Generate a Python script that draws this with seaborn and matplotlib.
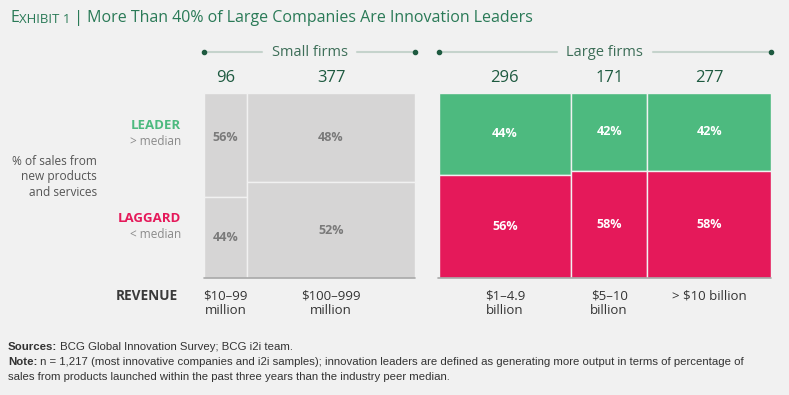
import matplotlib
matplotlib.use('Agg')
import matplotlib.pyplot as plt
import seaborn as sns

# dati
groups = ['Small firms', 'Large firms']
firm_group = ['Small firms', 'Small firms', 'Large firms', 'Large firms', 'Large firms']
revenue_labels = ['$10–99\nmillion', '$100–999\nmillion', '$1–4.9\nbillion', '$5–10\nbillion', '> $10 billion']
sample_sizes = [96, 377, 296, 171, 277]
leader_pct = [56, 48, 44, 42, 42]
laggard_pct = [44, 52, 56, 58, 58]

sns.set_theme(style='white')
plt.rcParams['font.family'] = ['Open Sans', 'DejaVu Sans']

BG = '#f1f1f1'
GRAY = '#d6d5d5'
GREEN = '#4dba7f'
RED = '#e5195a'
TITLE_GREEN = '#2a7a57'
DARK_GREEN = '#1e5a40'
W, H = 789, 395


def px(x, y):
    return x / W, 1 - y / H


fig = plt.figure(figsize=(W / 100, H / 100), dpi=100)
fig.patch.set_facecolor(BG)
ax = fig.add_axes([204 / W, 1 - 278.3 / H, 567 / W, 185.3 / H])
ax.set_facecolor('none')

# posizioni delle colonne (larghezza proporzionale a n)
group_gap = 53
lefts = []
pos = 0
prev = None
for g, n in zip(firm_group, sample_sizes):
    if prev is not None and g != prev:
        pos += group_gap
    lefts.append(pos)
    pos += n
    prev = g
centers = [l + n / 2 for l, n in zip(lefts, sample_sizes)]

top_colors = [GRAY if g == 'Small firms' else GREEN for g in firm_group]
bot_colors = [GRAY if g == 'Small firms' else RED for g in firm_group]
ax.bar(lefts, leader_pct, width=sample_sizes, bottom=0, align='edge',
       color=top_colors, edgecolor=BG, linewidth=1)
ax.bar(lefts, laggard_pct, width=sample_sizes, bottom=leader_pct, align='edge',
       color=bot_colors, edgecolor=BG, linewidth=1)
ax.set_xlim(0, pos)
ax.set_ylim(100, 0)

# etichette percentuali (nel gruppo piccolo i leader sono allineati)
small_top = min(leader_pct[i] for i, g in enumerate(firm_group) if g == 'Small firms')
for i, g in enumerate(firm_group):
    tc = '#7a7a7a' if g == 'Small firms' else 'white'
    y_top = small_top / 2 if g == 'Small firms' else leader_pct[i] / 2
    ax.text(centers[i], y_top, f'{leader_pct[i]}%', ha='center', va='center',
            fontsize=9, fontweight='bold', color=tc)
    ax.text(centers[i], leader_pct[i] + laggard_pct[i] / 2, f'{laggard_pct[i]}%', ha='center',
            va='center', fontsize=9, fontweight='bold', color=tc)
    ax.text(centers[i], 1.08, str(sample_sizes[i]), transform=ax.get_xaxis_transform(),
            ha='center', va='center', fontsize=12, color=DARK_GREEN)

# intestazioni dei gruppi e linea di base
trans = ax.get_xaxis_transform()
for g in groups:
    idx = [i for i, fg in enumerate(firm_group) if fg == g]
    start = lefts[idx[0]]
    end = lefts[idx[-1]] + sample_sizes[idx[-1]]
    mid = (start + end) / 2
    ax.plot([start, mid - 107], [1.221, 1.221], transform=trans, color='#c5d3cc', lw=1.5, clip_on=False)
    ax.plot([mid + 107, end], [1.221, 1.221], transform=trans, color='#c5d3cc', lw=1.5, clip_on=False)
    ax.plot([start, end], [1.221, 1.221], transform=trans, ls='none', marker='o', ms=3,
            color=DARK_GREEN, clip_on=False)
    ax.text(mid, 1.221, g, transform=trans, ha='center', va='center', fontsize=10.5, color='#3d6e58')
    ax.plot([start - 1, end], [100, 100], color='#a8a8a8', lw=1.2, clip_on=False)

ax.set_xticks(centers, revenue_labels)
ax.tick_params(axis='x', length=0, pad=8, labelsize=9.5, labelcolor='#333333')
for lab in ax.get_xticklabels():
    lab.set_linespacing(1.15)
ax.set_yticks([])
sns.despine(ax=ax, left=True, bottom=True)

# titolo
t = fig.text(*px(10, 22), 'E', fontsize=11.5, color=TITLE_GREEN, va='baseline')
t2 = ax.annotate('XHIBIT 1', xy=(1, 0), xycoords=t, va='bottom', fontsize=9.5,
                 color=TITLE_GREEN, annotation_clip=False)
ax.annotate(' | More Than 40% of Large Companies Are Innovation Leaders', xy=(1, 0),
            xycoords=t2, va='bottom', fontsize=11.5, color=TITLE_GREEN, annotation_clip=False)

# etichette a sinistra
fig.text(*px(181, 126), 'LEADER', ha='right', va='center', fontsize=9.5, fontweight='bold', color=GREEN)
fig.text(*px(181, 142), '> median', ha='right', va='center', fontsize=8.5, color='#8a8a8a')
fig.text(*px(181, 219), 'LAGGARD', ha='right', va='center', fontsize=9.5, fontweight='bold', color=RED)
fig.text(*px(181, 235), '< median', ha='right', va='center', fontsize=8.5, color='#8a8a8a')
fig.text(*px(97, 177), '% of sales from\nnew products\nand services', ha='right', va='center',
         fontsize=8.6, color='#555555', linespacing=1.27)
fig.text(*px(178, 296), 'REVENUE', ha='right', va='center', fontsize=9.8, fontweight='bold', color='#3a3a3a')

# note
note_font = ['Liberation Sans Narrow', 'Liberation Sans', 'DejaVu Sans']
s1 = fig.text(*px(8, 350), 'Sources:', fontsize=8.2, fontweight='bold', color='#333333',
              va='baseline', family=note_font)
ax.annotate(' BCG Global Innovation Survey; BCG i2i team.', xy=(1, 0), xycoords=s1, va='bottom',
            fontsize=8.2, color='#333333', family=note_font, annotation_clip=False)
s2 = fig.text(*px(8, 365), 'Note:', fontsize=8.2, fontweight='bold', color='#333333',
              va='baseline', family=note_font)
ax.annotate(' n = 1,217 (most innovative companies and i2i samples); innovation leaders are defined '
            'as generating more output in terms of percentage of', xy=(1, 0), xycoords=s2,
            va='bottom', fontsize=8.2, color='#333333', family=note_font, annotation_clip=False)
fig.text(*px(8, 380), 'sales from products launched within the past three years than the industry peer median.',
         fontsize=8.2, color='#333333', va='baseline', family=note_font)

fig.savefig('out.png', dpi=100, facecolor=BG)
